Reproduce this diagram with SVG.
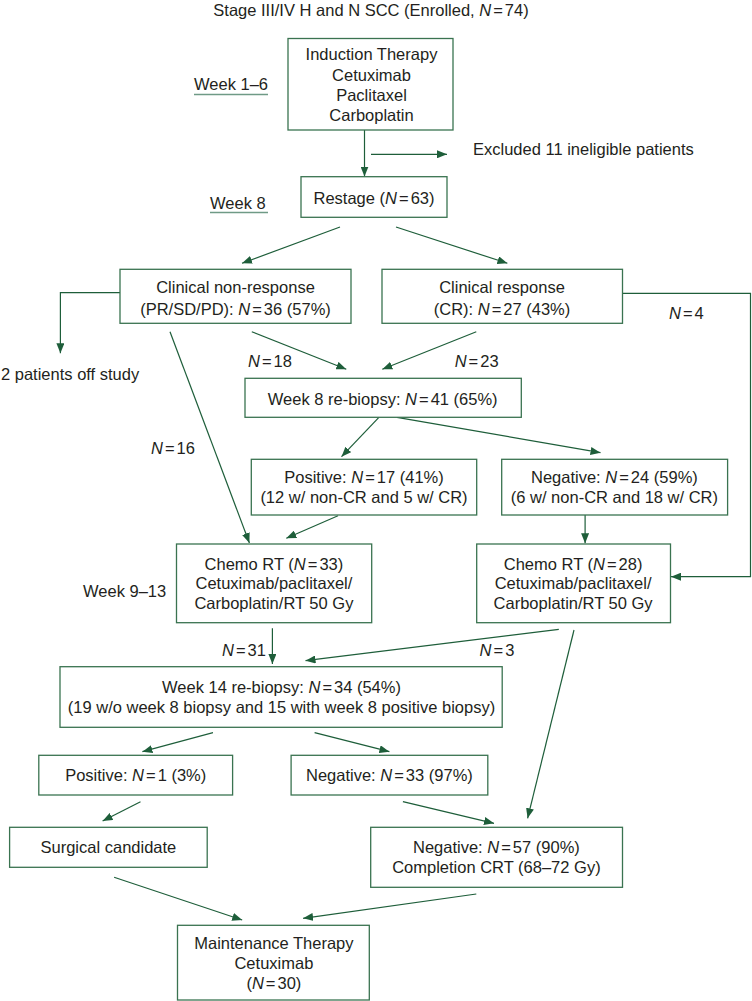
<svg xmlns="http://www.w3.org/2000/svg" width="752" height="1001" viewBox="0 0 752 1001">
<style>
text{font-family:"Liberation Sans",Arial,sans-serif;font-size:16.5px;fill:#231f20}
.c{text-anchor:middle}
.i{font-style:italic}
.box{fill:#fff;stroke:#3a7350;stroke-width:1.3}
.ln{fill:none;stroke:#1e5e3a;stroke-width:1.2}
.ul{stroke:#6f9a86;stroke-width:1.4}
</style>
<defs>
<marker id="ah" markerUnits="userSpaceOnUse" markerWidth="10" markerHeight="8" refX="10" refY="4" orient="auto">
<path d="M0,0 L10,4 L0,8 z" fill="#1e5e3a"/>
</marker>
</defs>
<rect width="752" height="1001" fill="#fff"/>
<text class="c" x="371" y="16">Stage III/IV H and N SCC (Enrolled, <tspan class="i">N</tspan><tspan dx="2">=</tspan><tspan dx="2">74)</tspan></text>
<g id="labels">
<text x="194" y="90">Week 1–6</text>
<line class="ul" x1="194" y1="94.5" x2="268" y2="94.5"/>
<text x="210" y="208.5">Week 8</text>
<line class="ul" x1="210" y1="212.5" x2="268" y2="212.5"/>
<text x="83" y="597.3">Week 9–13</text>
<text x="473" y="155">Excluded 11 ineligible patients</text>
<text x="1" y="380">2 patients off study</text>
<text x="669" y="318.7"><tspan class="i">N</tspan><tspan dx="2">=</tspan><tspan dx="2">4</tspan></text>
<text x="151" y="454.3"><tspan class="i">N</tspan><tspan dx="2">=</tspan><tspan dx="2">16</tspan></text>
<text x="248" y="366.7"><tspan class="i">N</tspan><tspan dx="2">=</tspan><tspan dx="2">18</tspan></text>
<text x="454.7" y="366.7"><tspan class="i">N</tspan><tspan dx="2">=</tspan><tspan dx="2">23</tspan></text>
<text x="222" y="656"><tspan class="i">N</tspan><tspan dx="2">=</tspan><tspan dx="2">31</tspan></text>
<text x="479.6" y="656"><tspan class="i">N</tspan><tspan dx="2">=</tspan><tspan dx="2">3</tspan></text>
</g>
<g id="connectors">
<line class="ln" x1="364.5" y1="130" x2="364.5" y2="176.5" marker-end="url(#ah)"/>
<line class="ln" x1="371" y1="154.3" x2="447" y2="154.3" marker-end="url(#ah)"/>
<line class="ln" x1="340" y1="227" x2="242" y2="263.3" marker-end="url(#ah)"/>
<line class="ln" x1="396" y1="227" x2="507.4" y2="263.3" marker-end="url(#ah)"/>
<polyline class="ln" points="622.5,293.3 750.5,293.3 750.5,576.7 671,576.7" marker-end="url(#ah)"/>
<polyline class="ln" points="120,292.7 60.4,292.7 60.4,353.3" marker-end="url(#ah)"/>
<line class="ln" x1="170" y1="331.7" x2="249.4" y2="543" marker-end="url(#ah)"/>
<line class="ln" x1="251.8" y1="331.7" x2="346.3" y2="369.3" marker-end="url(#ah)"/>
<line class="ln" x1="476.3" y1="331.7" x2="382.3" y2="369.3" marker-end="url(#ah)"/>
<line class="ln" x1="378.9" y1="417.3" x2="341.5" y2="456.7" marker-end="url(#ah)"/>
<line class="ln" x1="397" y1="417.3" x2="600.5" y2="452.7" marker-end="url(#ah)"/>
<line class="ln" x1="338" y1="515.7" x2="286.3" y2="538.3" marker-end="url(#ah)"/>
<line class="ln" x1="585.1" y1="515" x2="585.1" y2="543.3" marker-end="url(#ah)"/>
<line class="ln" x1="272.4" y1="628.3" x2="272.4" y2="664" marker-end="url(#ah)"/>
<line class="ln" x1="558.8" y1="629.3" x2="305.5" y2="660.7" marker-end="url(#ah)"/>
<line class="ln" x1="574" y1="630" x2="527.6" y2="818.3" marker-end="url(#ah)"/>
<line class="ln" x1="213" y1="732.7" x2="142.4" y2="751.7" marker-end="url(#ah)"/>
<line class="ln" x1="314.6" y1="732.7" x2="389.4" y2="751.7" marker-end="url(#ah)"/>
<line class="ln" x1="140.5" y1="801.7" x2="102.6" y2="821" marker-end="url(#ah)"/>
<line class="ln" x1="402.9" y1="801.7" x2="494" y2="823.3" marker-end="url(#ah)"/>
<line class="ln" x1="114.1" y1="877.3" x2="242.2" y2="920" marker-end="url(#ah)"/>
<line class="ln" x1="476.3" y1="894" x2="303.1" y2="918.3" marker-end="url(#ah)"/>
</g>
<g id="induction">
<rect class="box" x="288" y="38.5" width="165" height="91.5"/>
<text class="c" x="371.5" y="60">Induction Therapy</text>
<text class="c" x="371.5" y="80.5">Cetuximab</text>
<text class="c" x="371.5" y="100.5">Paclitaxel</text>
<text class="c" x="371.5" y="120.5">Carboplatin</text>
</g>
<g id="restage">
<rect class="box" x="301" y="176.7" width="146" height="40.6"/>
<text class="c" x="374" y="203.7">Restage (<tspan class="i">N</tspan><tspan dx="2">=</tspan><tspan dx="2">63)</tspan></text>
</g>
<g id="nonresponse">
<rect class="box" x="120" y="269.3" width="231" height="54"/>
<text class="c" x="235.5" y="293.3">Clinical non-response</text>
<text class="c" x="235.5" y="315.3">(PR/SD/PD): <tspan class="i">N</tspan><tspan dx="2">=</tspan><tspan dx="2">36 (57%)</tspan></text>
</g>
<g id="response">
<rect class="box" x="382" y="269.3" width="240.5" height="54"/>
<text class="c" x="502" y="293.3">Clinical response</text>
<text class="c" x="502" y="315.3">(CR): <tspan class="i">N</tspan><tspan dx="2">=</tspan><tspan dx="2">27 (43%)</tspan></text>
</g>
<g id="rebiopsy8">
<rect class="box" x="245" y="378.3" width="276.3" height="39"/>
<text class="c" x="382.7" y="404.7">Week 8 re-biopsy: <tspan class="i">N</tspan><tspan dx="2">=</tspan><tspan dx="2">41 (65%)</tspan></text>
</g>
<g id="positive17">
<rect class="box" x="251.3" y="459.3" width="225.4" height="55.7"/>
<text class="c" x="364" y="482.7">Positive: <tspan class="i">N</tspan><tspan dx="2">=</tspan><tspan dx="2">17 (41%)</tspan></text>
<text class="c" x="364" y="503.3">(12 w/ non-CR and 5 w/ CR)</text>
</g>
<g id="negative24">
<rect class="box" x="501.7" y="459.3" width="225.9" height="55.7"/>
<text class="c" x="614.4" y="482.7">Negative: <tspan class="i">N</tspan><tspan dx="2">=</tspan><tspan dx="2">24 (59%)</tspan></text>
<text class="c" x="614.4" y="503.3">(6 w/ non-CR and 18 w/ CR)</text>
</g>
<g id="chemort33">
<rect class="box" x="176.5" y="544" width="195.2" height="78.7"/>
<text class="c" x="273.9" y="570">Chemo RT (<tspan class="i">N</tspan><tspan dx="2">=</tspan><tspan dx="2">33)</tspan></text>
<text class="c" x="273.9" y="589.3">Cetuximab/paclitaxel/</text>
<text class="c" x="273.9" y="609.3">Carboplatin/RT 50 Gy</text>
</g>
<g id="chemort28">
<rect class="box" x="476.7" y="544" width="193.8" height="78.7"/>
<text class="c" x="573.1" y="570">Chemo RT (<tspan class="i">N</tspan><tspan dx="2">=</tspan><tspan dx="2">28)</tspan></text>
<text class="c" x="573.1" y="589.3">Cetuximab/paclitaxel/</text>
<text class="c" x="573.1" y="609.3">Carboplatin/RT 50 Gy</text>
</g>
<g id="rebiopsy14">
<rect class="box" x="60" y="666.7" width="442.2" height="60.6"/>
<text class="c" x="281.5" y="692.7">Week 14 re-biopsy: <tspan class="i">N</tspan><tspan dx="2">=</tspan><tspan dx="2">34 (54%)</tspan></text>
<text class="c" x="281.5" y="712.7">(19 w/o week 8 biopsy and 15 with week 8 positive biopsy)</text>
</g>
<g id="positive1">
<rect class="box" x="38.8" y="755.3" width="193.8" height="39.7"/>
<text class="c" x="135.7" y="781">Positive: <tspan class="i">N</tspan><tspan dx="2">=</tspan><tspan dx="2">1 (3%)</tspan></text>
</g>
<g id="negative33">
<rect class="box" x="291.1" y="755.3" width="196.7" height="39.7"/>
<text class="c" x="389.4" y="781">Negative: <tspan class="i">N</tspan><tspan dx="2">=</tspan><tspan dx="2">33 (97%)</tspan></text>
</g>
<g id="surgical">
<rect class="box" x="9.6" y="827.3" width="197.6" height="40"/>
<text class="c" x="108.4" y="853.3">Surgical candidate</text>
</g>
<g id="negative57">
<rect class="box" x="370.7" y="827.3" width="251.8" height="60"/>
<text class="c" x="496.4" y="853.3">Negative: <tspan class="i">N</tspan><tspan dx="2">=</tspan><tspan dx="2">57 (90%)</tspan></text>
<text class="c" x="496.4" y="873.3">Completion CRT (68–72 Gy)</text>
</g>
<g id="maintenance">
<rect class="box" x="177.5" y="925.3" width="191.8" height="74.7"/>
<text class="c" x="273.9" y="949.3">Maintenance Therapy</text>
<text class="c" x="273.9" y="968.7">Cetuximab</text>
<text class="c" x="273.9" y="988.7">(<tspan class="i">N</tspan><tspan dx="2">=</tspan><tspan dx="2">30)</tspan></text>
</g>
</svg>
